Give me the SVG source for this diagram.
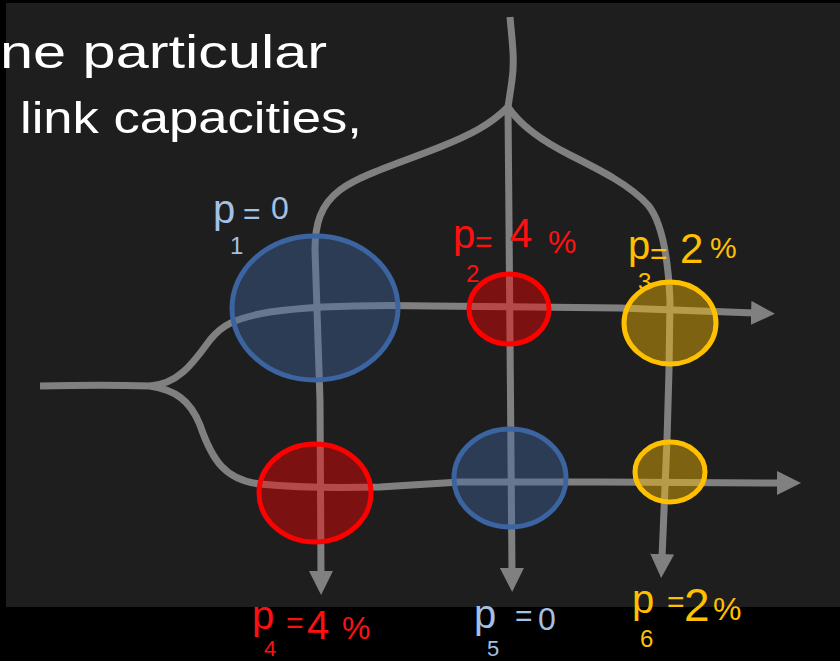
<svg xmlns="http://www.w3.org/2000/svg" width="840" height="661" viewBox="0 0 840 661">
<style>
.ln{fill:none;stroke:#808080;stroke-width:7;stroke-linecap:butt;stroke-linejoin:round}
.arr{marker-end:url(#ah)}
.blue{fill:#3f6aa5;fill-opacity:0.4;stroke:#3b64a0;stroke-width:5}
.red{fill:#ff0000;fill-opacity:0.42;stroke:#ff0000;stroke-width:5}
.yel{fill:#ffc000;fill-opacity:0.42;stroke:#ffc000;stroke-width:5}
.hw{font-family:"Liberation Sans","DejaVu Sans",sans-serif;fill:#ffffff}
.lb{font-family:"Liberation Sans","DejaVu Sans",sans-serif}
.cb{fill:#a3c0e6}.cr{fill:#ff1010}.cy{fill:#ffc000}
</style>
<defs>
<marker id="ah" markerUnits="userSpaceOnUse" markerWidth="24" markerHeight="24" viewBox="0 0 24 24" refX="4" refY="12" orient="auto">
<path d="M0,0 L24,12 L0,24 Z" fill="#808080"/>
</marker>
</defs>
<rect x="0" y="0" width="840" height="661" fill="#000000"/>
<rect x="6" y="3" width="834" height="604" fill="#1e1e1e"/>

<g id="handwriting">
<text class="hw" x="0" y="68" font-size="46" textLength="327" lengthAdjust="spacingAndGlyphs">ne particular</text>
<text class="hw" x="20" y="133" font-size="44" textLength="342" lengthAdjust="spacingAndGlyphs">link capacities,</text>
</g>

<g id="connectors">
<path class="ln" d="M40,386 C80,385 120,385 150,386"/>
<path class="ln arr" d="M150,386 C180,384 195,360 210,340 C222,325 235,318 270,312 C320,305 380,305 430,306 L620,308 L755,313"/>
<path class="ln arr" d="M150,386 C175,390 190,400 200,425 C212,460 225,480 260,484 C290,487 340,488 380,487 L460,482 L600,482 L781,483"/>
<path class="ln" d="M510,17 C512,40 515,60 512,80 C510,95 509,100 508,107"/>
<path class="ln arr" d="M508,107 L512,572"/>
<path class="ln arr" d="M508,107 C490,125 470,135 440,147 C400,163 360,175 340,190 C320,205 315,225 315,250 L320,400 L321,575"/>
<path class="ln arr" d="M508,107 C520,125 540,140 570,155 C600,170 630,185 648,205 C662,222 668,255 670,300 L669,370 L667,440 L662,558"/>
</g>

<g id="n1"><ellipse class="blue" cx="315" cy="308" rx="83" ry="72"/></g>
<g id="n2"><ellipse class="red" cx="509" cy="309" rx="40" ry="35"/></g>
<g id="n3"><ellipse class="yel" cx="670" cy="323" rx="46" ry="41"/></g>
<g id="n4"><ellipse class="red" cx="315" cy="493" rx="56" ry="49"/></g>
<g id="n5"><ellipse class="blue" cx="510" cy="478" rx="56" ry="49"/></g>
<g id="n6"><ellipse class="yel" cx="670" cy="472" rx="35" ry="30"/></g>

<g id="label-p1" class="lb cb">
<text x="213" y="223" font-size="40">p</text>
<text x="230" y="254" font-size="24">1</text>
<text x="243" y="224" font-size="30">=</text>
<text x="271" y="219" font-size="32">0</text>
</g>
<g id="label-p2" class="lb cr">
<text x="453" y="248" font-size="40">p</text>
<text x="466" y="282" font-size="24">2</text>
<text x="475" y="252" font-size="30">=</text>
<text x="510" y="247" font-size="40">4</text>
<text x="548" y="253" font-size="32">%</text>
</g>
<g id="label-p3" class="lb cy">
<text x="628" y="259" font-size="40">p</text>
<text x="638" y="290" font-size="24">3</text>
<text x="650" y="264" font-size="30">=</text>
<text x="680" y="263" font-size="42">2</text>
<text x="710" y="258" font-size="30">%</text>
</g>
<g id="label-p4" class="lb cr">
<text x="252" y="629" font-size="40">p</text>
<text x="264" y="656" font-size="22">4</text>
<text x="286" y="633" font-size="30">=</text>
<text x="307" y="639" font-size="40">4</text>
<text x="342" y="639" font-size="32">%</text>
</g>
<g id="label-p5" class="lb cb">
<text x="474" y="628" font-size="40">p</text>
<text x="487" y="656" font-size="22">5</text>
<text x="515" y="626" font-size="30">=</text>
<text x="538" y="630" font-size="32">0</text>
</g>
<g id="label-p6" class="lb cy">
<text x="632" y="613" font-size="40">p</text>
<text x="640" y="647" font-size="24">6</text>
<text x="667" y="612" font-size="30">=</text>
<text x="684" y="621" font-size="46">2</text>
<text x="713" y="620" font-size="32">%</text>
</g>
</svg>
